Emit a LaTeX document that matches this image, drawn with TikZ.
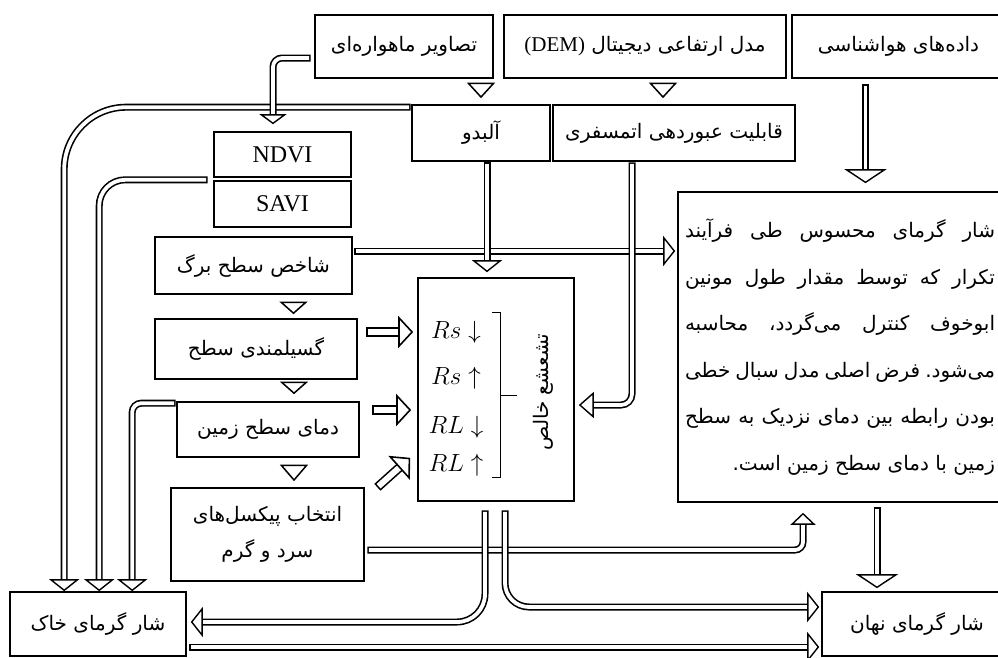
\documentclass[tikz,border=0pt]{standalone}
\usepackage{fontspec}
\setmainfont{Liberation Serif}
\newfontfamily\fa[Script=Arabic]{DejaVu Sans}
\TeXXeTstate=1
\usetikzlibrary{arrows.meta,calc}
\newcommand{\fat}[1]{{\fa\beginR #1\endR}}
\newcommand{\jline}[1]{\hbox to 310pt{\spaceskip=0pt plus 1fil\xspaceskip=0pt plus 1fil\beginR #1\endR}}
\begin{document}
\begin{tikzpicture}[x=1pt,y=-1pt,
  box/.style={draw,line width=1.6pt,inner sep=0pt,font=\fa\fontsize{20}{26}\selectfont},
  en/.style={font=\rmfamily\fontsize{24}{28}\selectfont},
  dl/.style={double=white,double distance=3.8pt,line width=1.6pt,line cap=rect},
  dla/.style={dl,-{Triangle[fill=white,line width=1.4pt 0 0,length=12pt,width=30pt]}},
  bigdla/.style={dl,-{Triangle[fill=white,line width=1.4pt 0 0,length=14pt,width=42pt]}},
  fatdla/.style={dl,double distance=6pt,-{Triangle[fill=white,line width=1.6pt 0 0,length=15pt,width=32pt]}},
  tri/.style={line width=1.5pt,-{Triangle[fill=white,length=#1,width=28pt]}}]
\clip (0,0) rectangle (998,657);
\node[box,minimum width=178pt,minimum height=63pt] (sat) at (404,46.5) {\fat{تصاویر ماهواره‌ای}};
\node[box,minimum width=282pt,minimum height=63pt] (dem) at (645,46.5) {\fat{مدل ارتفاعی دیجیتال \beginL{\rmfamily\fontsize{21}{24}\selectfont(DEM)}\endL}};
\node[box,minimum width=213pt,minimum height=63pt] (met) at (898.5,46.5) {\fat{داده‌های هواشناسی}};
\node[box,minimum width=138pt,minimum height=56pt] (albedo) at (481,133) {\fat{آلبدو}};
\node[box,minimum width=242pt,minimum height=56pt] (atmos) at (674,133) {\fat{قابلیت عبوردهی اتمسفری}};
\node[box,en,minimum width=137pt,minimum height=45pt] (ndvi) at (282.5,154.5) {NDVI};
\node[box,en,minimum width=137pt,minimum height=46pt] (savi) at (282.5,204) {SAVI};
\node[box,minimum width=197pt,minimum height=57pt] (lai) at (253.5,265.5) {\fat{شاخص سطح برگ}};
\node[box,minimum width=202pt,minimum height=60pt] (emis) at (256,349) {\fat{گسیلمندی سطح}};
\node[box,minimum width=182pt,minimum height=55pt] (lst) at (268,429.5) {\fat{دمای سطح زمین}};
\node[box,align=center,minimum width=193pt,minimum height=93pt] (pix) at (267.5,534.5) {\fat{انتخاب پیکسل‌های}\\[10pt]\fat{سرد و گرم}};
\node[box,minimum width=176pt,minimum height=64pt] (soil) at (98,624) {\fat{شار گرمای خاک}};
\node[box,minimum width=156pt,minimum height=223pt] (rad) at (496,389.5) {};
\node[box,align=right,minimum width=324pt,minimum height=310pt,font=\fa\fontsize{20}{46.6}\selectfont] (sens) at (840,347) {\jline{شار گرمای محسوس طی فرآیند}\\
\jline{تکرار که توسط مقدار طول مونین}\\
\jline{ابوخوف کنترل می‌گردد، محاسبه}\\
\jline{می‌شود. فرض اصلی مدل سبال خطی}\\
\jline{بودن رابطه بین دمای نزدیک به سطح}\\
\hbox to 310pt{\hfill\beginR زمین با دمای سطح زمین است.\endR}};
\node[box,minimum width=190pt,minimum height=64pt] (latent) at (917,624) {\fat{شار گرمای نهان}};
\node[font=\fontsize{23}{28}\selectfont] (r1) at (456,332) {$Rs\downarrow$};
\node[font=\fontsize{23}{28}\selectfont] (r2) at (456,378) {$Rs\uparrow$};
\node[font=\fontsize{23}{28}\selectfont] (r3) at (456,427) {$RL\downarrow$};
\node[font=\fontsize{23}{28}\selectfont] (r4) at (456,465) {$RL\uparrow$};
\node[font=\fa\fontsize{20}{24}\selectfont,rotate=90] (netrad) at (543,392) {\fat{تشعشع خالص}};
\draw[line width=1pt] (492,312) -- (500,312) -- (500,477) -- (492,477) (500,395) -- (517,395);
\draw[tri=15.5pt] ($(albedo.north |- sat.south)+(0,5)$) -- ($(albedo.north)+(0,-6)$);
\draw[tri=15.5pt] ($(dem.south)+(18,5)$) -- ($(atmos.north)+(-11,-6)$);
\draw[tri=12.5pt] ($(lai.south)+(40,8)$) -- ($(emis.north)+(37.5,-4)$);
\draw[tri=12.5pt] ($(emis.south)+(38,3)$) -- ($(lst.north)+(26,-7)$);
\draw[tri=16.5pt] ($(lst.south)+(26,8)$) -- ($(pix.north)+(26.5,-6)$);
\draw[dla,rounded corners=62pt] ($(albedo.north west)+(-4,3)$) -| ($(soil.north west)+(55,0)$);
\draw[dla,rounded corners=26pt] ($(ndvi.south west)+(-9,2)$) -| ($(soil.north west)+(90,0)$);
\draw[dla,rounded corners=9pt] ($(lst.north west)+(-4,2)$) -| ($(soil.north west)+(123,0)$);
\draw[dla,-{Triangle[fill=white,line width=1.4pt 0 0,length=10pt,width=27pt]},rounded corners=9pt] ($(sat.west)+(-7,11.5)$) -| ($(ndvi.north)+(-9.5,-7)$);
\draw[dla] ($(lai.east)+(5,-14.5)$) -- ($(sens.west)+(-2,-96)$);
\draw[dla] ($(albedo.south)+(6,4)$) -- ($(rad.north)+(-9,-5)$);
\draw[dla,-{Triangle[fill=white,line width=1.4pt 0 0,length=15pt,width=26pt]},rounded corners=11pt] ($(atmos.south)+(-42,4)$) |- ($(rad.east)+(4,15.5)$);
\draw[bigdla] ($(met.south)+(-33,9)$) -- ($(sens.north)+(25.5,-8)$);
\draw[fatdla] ($(emis.east)+(13,-17)$) -- ($(rad.west)+(-4,-57.5)$);
\draw[fatdla] ($(lst.east)+(17,-19.5)$) -- ($(rad.west)+(-6,20.5)$);
\draw[fatdla] ($(pix.north east)+(16,-3)$) -- ($(rad.south west)+(-7,-44)$);
\draw[dla,-{Triangle[fill=white,line width=1.4pt 0 0,length=12pt,width=25pt]},rounded corners=8pt] ($(pix.east)+(6,15.5)$) -| ($(sens.south)+(-37,10)$);
\draw[dla,rounded corners=28pt] ($(rad.south)+(-11,12)$) |- ($(soil.east)+(4,-2)$);
\draw[dla,rounded corners=24pt] ($(rad.south)+(9,12)$) |- ($(latent.west)+(-2,-17)$);
\draw[dla] ($(soil.east)+(6,23)$) -- ($(latent.west)+(-2,23)$);
\draw[bigdla] ($(sens.south)+(37,8)$) -- ($(latent.north)+(-40,-3)$);
\end{tikzpicture}
\end{document}
